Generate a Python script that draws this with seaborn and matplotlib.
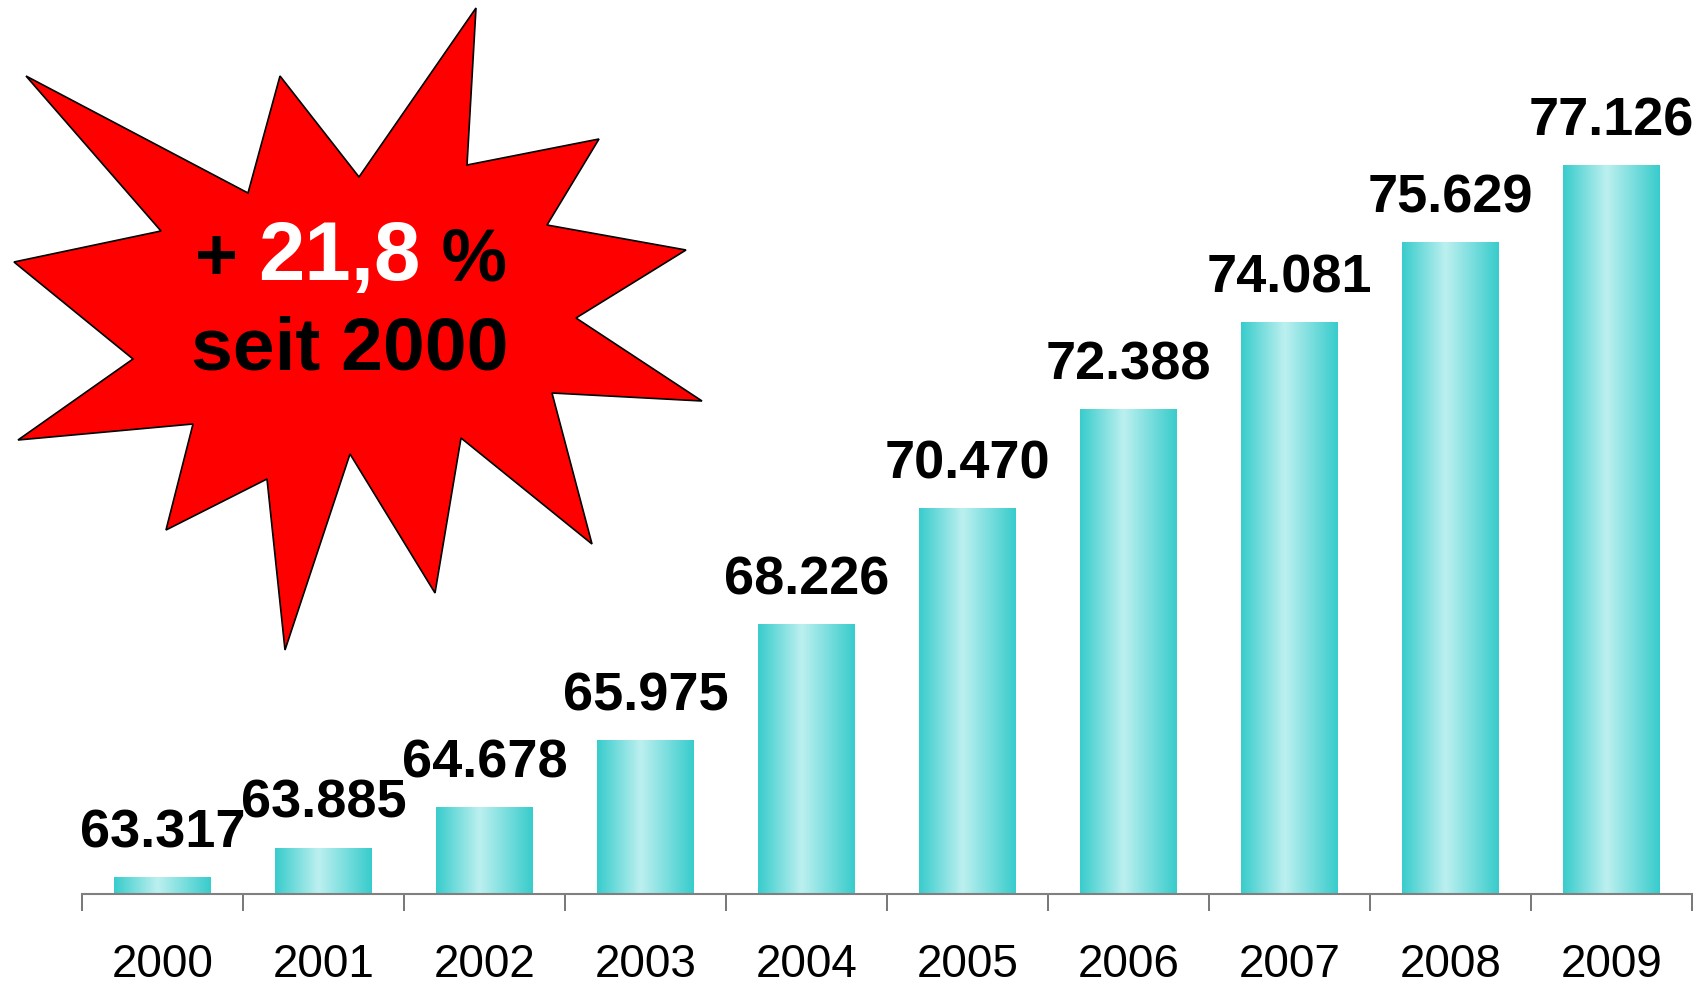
import numpy as np
import pandas as pd
import matplotlib
matplotlib.use("Agg")
import matplotlib.pyplot as plt
from matplotlib.patches import Polygon
from matplotlib.colors import LinearSegmentedColormap
import seaborn as sns

# data
years = ["2000", "2001", "2002", "2003", "2004", "2005", "2006", "2007", "2008", "2009"]
values = [63317, 63885, 64678, 65975, 68226, 70470, 72388, 74081, 75629, 77126]
growth_text = "21,8"
since_text = "seit 2000"

# starburst outline in figure pixels (decoration, not data)
STAR = [(476, 8), (467, 165), (599, 139), (547, 225), (686, 250), (576, 318),
        (702, 401), (552, 393), (592, 544), (461, 438), (435, 593), (350, 454),
        (285, 650), (267, 479), (166, 530), (193, 424), (18, 440), (133, 359),
        (14, 262), (161, 231), (26, 76), (248, 193), (280, 76), (359, 177)]

W, H = 1704, 988
Y_MIN, Y_MAX = 63000, 80340
sns.set_theme(style="white")
plt.rcParams["font.family"] = ["Liberation Sans", "DejaVu Sans"]

fig = plt.figure(figsize=(W / 100, H / 100), dpi=100)
ax = fig.add_axes([82 / W, (H - 894) / H, 1610 / W, 894 / H])

df = pd.DataFrame({"year": years, "value": values})
sns.barplot(data=df, x="year", y="value", color="#3ECFCF", width=0.6, ax=ax,
            saturation=1)
ax.set_xlim(-0.5, len(years) - 0.5)
ax.set_ylim(Y_MIN, Y_MAX)

# cylinder-like horizontal gradient inside each bar
edge = np.array([0.22, 0.80, 0.80])
light = np.array([0.74, 0.94, 0.94])
cmap = LinearSegmentedColormap.from_list("cyl", [(0, edge), (0.45, light), (1, edge)])
grad = np.linspace(0, 1, 256).reshape(1, -1)
for p in ax.patches:
    x0, w = p.get_x(), p.get_width()
    top = p.get_y() + p.get_height()
    p.set_facecolor("none")
    p.set_edgecolor("none")
    ax.imshow(grad, cmap=cmap, aspect="auto", extent=[x0, x0 + w, Y_MIN, top],
              zorder=2, interpolation="bilinear")
ax.set_xlim(-0.5, len(years) - 0.5)
ax.set_ylim(Y_MIN, Y_MAX)

labels = [f"{v:,}".replace(",", ".") for v in values]
ax.bar_label(ax.containers[0], labels=labels, padding=14, fontsize=39,
             fontweight="bold", color="black")

ax.set_xlabel("")
ax.set_ylabel("")
ax.set_yticks([])
for s in ["top", "right", "left"]:
    ax.spines[s].set_visible(False)
ax.spines["bottom"].set_color("#808080")
ax.spines["bottom"].set_linewidth(1.5)
ax.spines["bottom"].set_zorder(5)
ax.set_xticks(np.arange(-0.5, len(years), 1.0), minor=True)
ax.tick_params(axis="x", which="minor", length=12, width=1.2, color="#606060",
               direction="out", bottom=True)
ax.tick_params(axis="x", which="major", length=0, pad=35, labelsize=33,
               labelcolor="black")

# overlay in pixel coordinates for the starburst
ov = fig.add_axes([0, 0, 1, 1])
ov.set_xlim(0, W)
ov.set_ylim(H, 0)
ov.axis("off")
ov.patch.set_alpha(0)
ov.add_patch(Polygon(STAR, closed=True, facecolor="#FF0000", edgecolor="black",
                     linewidth=1.2))

t1 = ov.text(195, 280, "+ ", fontsize=53, fontweight="bold", color="black",
             ha="left", va="baseline")
t2 = ov.annotate(growth_text, xy=(1, 280), xycoords=(t1, "data"), fontsize=60,
                 fontweight="bold", color="white", ha="left", va="baseline")
t3 = ov.annotate(" %", xy=(1, 280), xycoords=(t2, "data"), fontsize=53,
                 fontweight="bold", color="black", ha="left", va="baseline")
ov.text(350, 369, since_text, fontsize=54, fontweight="bold", color="black",
        ha="center", va="baseline")

fig.savefig("out.png", dpi=100)
